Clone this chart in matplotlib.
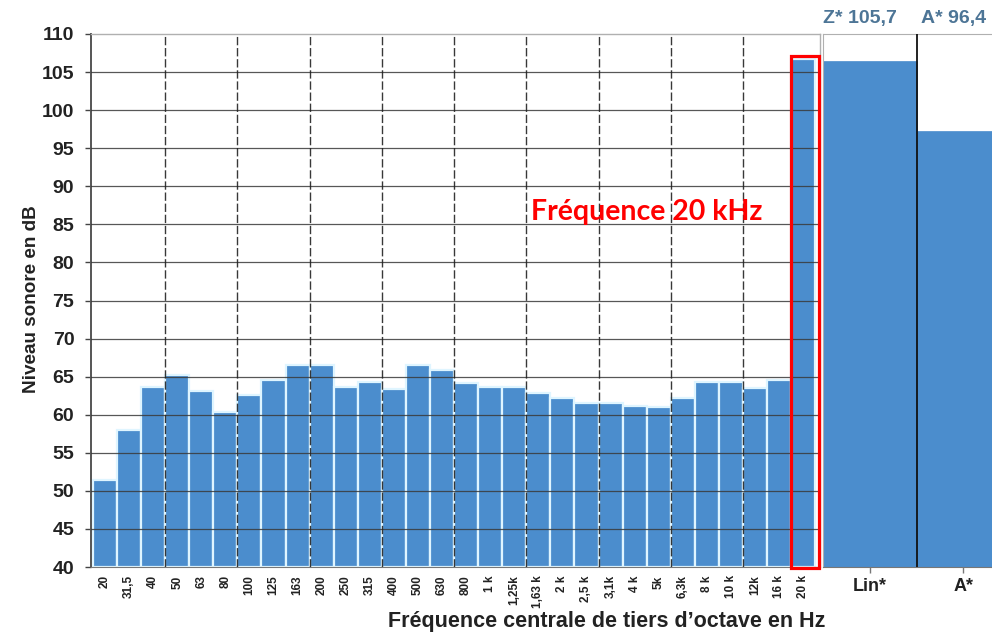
import matplotlib
matplotlib.use("Agg")
import matplotlib.pyplot as plt
from matplotlib.patches import Rectangle

# ---- data ----
freq_labels = ["20", "31,5", "40", "50", "63", "80", "100", "125", "163", "200",
               "250", "315", "400", "500", "630", "800", "1 k", "1,25k", "1,63 k", "2 k",
               "2,5 k", "3,1k", "4 k", "5k", "6,3k", "8 k", "10 k", "12k", "16 k", "20 k"]
levels_db = [51.4, 58.0, 63.7, 65.2, 63.1, 60.3, 62.6, 64.6, 66.5, 66.5,
             63.7, 64.3, 63.4, 66.5, 65.9, 64.1, 63.7, 63.7, 62.9, 62.2,
             61.5, 61.5, 61.2, 61.0, 62.2, 64.3, 64.3, 63.5, 64.6, 106.7]
total_labels = ["Lin*", "A*"]
total_values = [106.4, 97.3]
total_headers = ["Z* 105,7", "A* 96,4"]
y_ticks = list(range(40, 111, 5))

W, H = 992, 632
fig = plt.figure(figsize=(W / 100, H / 100), dpi=100)
fig.patch.set_facecolor("white")

def fx(px):
    return px / W

def fy(py):
    return 1 - py / H

bar_color = "#4b8dcd"
edge_color = "#dff5ff"
grid_color = "#3a3a3a"

# ---- main axes ----
left, right, top, bottom = 91, 820, 34, 567
ax = fig.add_axes([fx(left), fy(bottom), fx(right - left), fy(top) - fy(bottom)])
x = list(range(len(levels_db)))
ax.bar(x, [v - 40 for v in levels_db], bottom=40, width=1.0, color=bar_color,
       edgecolor=edge_color, linewidth=1.6, zorder=2)
ax.set_xlim(-0.58, 29.7)
ax.set_ylim(40, 110)
ax.set_yticks(y_ticks)
ax.set_yticklabels([str(t) for t in y_ticks], fontsize=14, fontweight="bold",
                   color="#222222", family="Liberation Sans")
for t in y_ticks[1:-1]:
    ax.axhline(t, color=grid_color, lw=0.9, zorder=3, alpha=0.85)
for xv in [2.5 + 3 * k for k in range(9)]:
    ax.axvline(xv, color="#222222", lw=1.0, ls=(0, (6, 2)), zorder=3, alpha=0.9)
ax.set_xticks(x)
ax.set_xticklabels(freq_labels, rotation=90, fontsize=8.5, fontweight="bold",
                   color="#222222", family="Liberation Sans", va="top", ha="center")
ax.tick_params(axis="x", length=0, pad=6)
ax.tick_params(axis="y", length=4, width=1, color="#444444", pad=8, direction="out")
for s in ["top", "right"]:
    ax.spines[s].set_color("#b0b0b0")
    ax.spines[s].set_linewidth(1.0)
ax.spines["left"].set_color("#555555")
ax.spines["left"].set_linewidth(1.4)
ax.spines["bottom"].set_color("#777777")
ax.spines["bottom"].set_linewidth(0.8)

# red highlight box and text
ax.add_patch(Rectangle((28.5, 39.9), 1.17, 67.2, fill=False, edgecolor="#ff0000",
                       linewidth=2.3, clip_on=False, zorder=5))
ax.text(22.5, 86.6, "Fréquence 20 kHz", color="#ff0000", fontsize=20.5,
        fontweight="bold", family="Lato", ha="center", va="center", zorder=6)

# ---- totals panel ----
rl, rr = 823, 1010
ax2 = fig.add_axes([fx(rl), fy(bottom), fx(rr - rl), fy(top) - fy(bottom)])
ax2.bar([0.5, 1.5], [v - 40 for v in total_values], bottom=40, width=1.0,
        color=bar_color, edgecolor=bar_color, linewidth=0.5, zorder=2)
ax2.set_xlim(0, 2)
ax2.set_ylim(40, 110)
ax2.axvline(1.0, color="#111111", lw=1.3, zorder=3)
ax2.set_yticks([])
ax2.set_xticks([0.5, 1.5])
ax2.set_xticklabels(total_labels, fontsize=13, fontweight="bold",
                    color="#222222", family="Liberation Sans")
ax2.tick_params(axis="x", length=4, width=1, color="#777777", pad=4)
ax2.spines["top"].set_color("#b0b0b0")
ax2.spines["left"].set_color("#b0b0b0")
ax2.spines["right"].set_visible(False)
ax2.spines["bottom"].set_color("#777777")
ax2.spines["bottom"].set_linewidth(0.8)
for xi, txt in zip([0.0, 1.05], total_headers):
    ax2.text(xi, 110.9, txt, fontsize=14, fontweight="bold", color="#4d7596",
             family="Liberation Sans", ha="left", va="bottom", clip_on=False)

# ---- axis titles ----
fig.text(fx(607), fy(622), "Fréquence centrale de tiers d’octave en Hz",
         fontsize=15.5, fontweight="bold", color="#222222", family="Liberation Sans",
         ha="center", va="center")
fig.text(fx(32), fy(299), "Niveau sonore en dB", fontsize=13.6, fontweight="bold",
         color="#222222", family="Liberation Sans", rotation=90,
         ha="center", va="center")

fig.savefig("out.png", dpi=100)
